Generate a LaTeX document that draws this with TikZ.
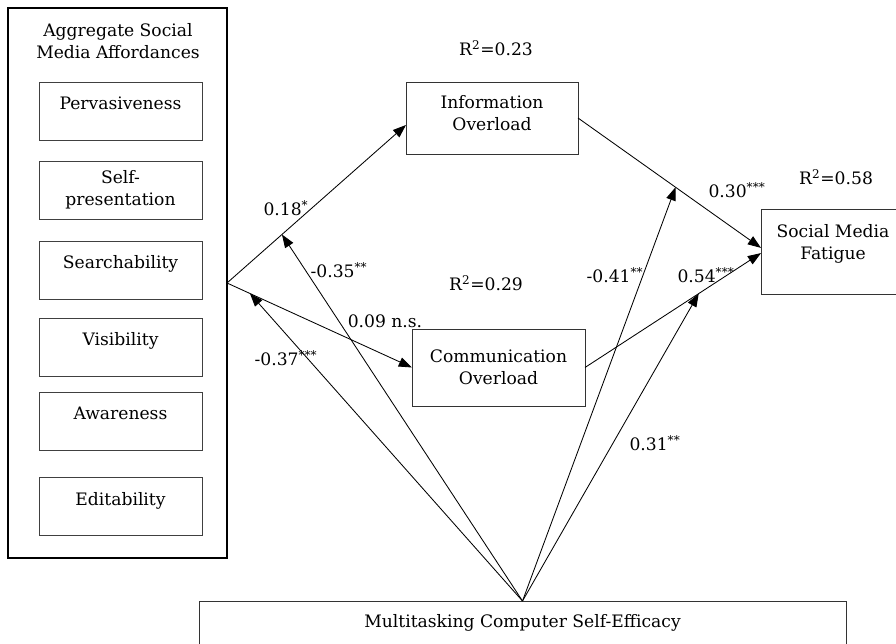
\documentclass[tikz,border=0pt]{standalone}
\usepackage{fontspec}
\setmainfont{DejaVu Serif}
\usetikzlibrary{arrows.meta}
\usetikzlibrary{calc}
\tikzstyle{aggbox} = [draw=black, line width=2pt, outer sep=0pt, minimum width=5.475cm, minimum height=13.75cm]
\tikzstyle{affbox} = [draw=black!75, line width=0.6pt, outer sep=0pt, anchor=north, minimum width=4.075cm, minimum height=1.45cm, inner ysep=0pt, text height=0.7cm, text depth=0.75cm]
\tikzstyle{varbox} = [draw=black!80, line width=0.6pt, outer sep=0pt, align=center]
\tikzstyle{effect} = [-{Triangle[length=3.3mm,width=2.4mm]}, line width=0.6pt]
\tikzstyle{coef} = [inner sep=1pt]

\begin{document}
\begin{tikzpicture}[font=\fontsize{12.2}{15.6}\selectfont]

		\useasboundingbox (0,0) rectangle (22.4,16.075);

		\node [aggbox] (agg) at (2.9375,9) {};
		\node [align=center] (aggtitle) at (2.95,15.05) {Aggregate Social\\Media Affordances};
		\node [affbox] (perv) at (3.0125,14.025) {Pervasiveness};
		\node [affbox, text height=, text depth=, inner ysep=2pt, align=center] (selfp) at (3.0125,12.05) {Self-\\presentation};
		\node [affbox] (search) at (3.0125,10.05) {Searchability};
		\node [affbox] (visib) at (3.0125,8.125) {Visibility};
		\node [affbox] (aware) at (3.0125,6.275) {Awareness};
		\node [affbox] (edit) at (3.0125,4.15) {Editability};

		\node [varbox, minimum width=4.3cm, minimum height=1.8cm] (info) at (12.3,13.125) {Information\\Overload\\[-8pt]\mbox{}};
		\node [varbox, minimum width=4.325cm, minimum height=1.925cm] (comm) at (12.4625,6.8875) {Communication\\Overload};
		\node [varbox, minimum width=3.6cm, minimum height=2.125cm] (fatigue) at (20.825,9.7875) {Social Media\\Fatigue\\[-1.6pt]\mbox{}};
		\node [varbox, anchor=north, minimum width=16.175cm, inner ysep=0pt, text height=0.65cm, text depth=0.9cm] (mcse) at (13.0625,1.05) {Multitasking Computer Self-Efficacy};

		\node [coef] (r2io) at (12.4,14.875) {R\textsuperscript{2}=0.23};
		\node [coef] (r2co) at (12.15,9) {R\textsuperscript{2}=0.29};
		\node [coef] (r2smf) at (20.9,11.65) {R\textsuperscript{2}=0.58};

		\coordinate (inIO) at ($(info.west)+(0,-0.175)$);
		\coordinate (inSMF1) at ($(fatigue.west)+(0,0.09)$);
		\coordinate (inSMF2) at ($(fatigue.west)+(0,-0.04)$);

		\draw [effect] (agg.east) -- (inIO);
		\draw [effect] (agg.east) -- (comm.west);
		\draw [effect] (info.east) -- (inSMF1);
		\draw [effect] (comm.east) -- (inSMF2);

		\coordinate (m1) at ($(agg.east)!0.307!(inIO)$);
		\coordinate (m2) at ($(agg.east)!0.124!(comm.west)$);
		\coordinate (m3) at ($(info.east)!0.533!(inSMF1)$);
		\coordinate (m4) at ($(comm.east)!0.646!(inSMF2)$);

		\draw [effect] (mcse.north) -- (m1);
		\draw [effect] (mcse.north) -- (m2);
		\draw [effect] (mcse.north) -- (m3);
		\draw [effect] (mcse.north) -- (m4);

		\node [coef] (b1) at (7.15,10.875) {0.18\textsuperscript{*}};
		\node [coef] (b2) at (9.625,8.05) {0.09 n.s.};
		\node [coef] (b3) at (8.475,9.325) {-0.35\textsuperscript{**}};
		\node [coef] (b4) at (7.15,7.125) {-0.37\textsuperscript{***}};
		\node [coef] (b5) at (18.425,11.325) {0.30\textsuperscript{***}};
		\node [coef] (b6) at (17.65,9.2) {0.54\textsuperscript{***}};
		\node [coef] (b7) at (15.375,9.2) {-0.41\textsuperscript{**}};
		\node [coef] (b8) at (16.375,5) {0.31\textsuperscript{**}};

	\end{tikzpicture}
\end{document}
